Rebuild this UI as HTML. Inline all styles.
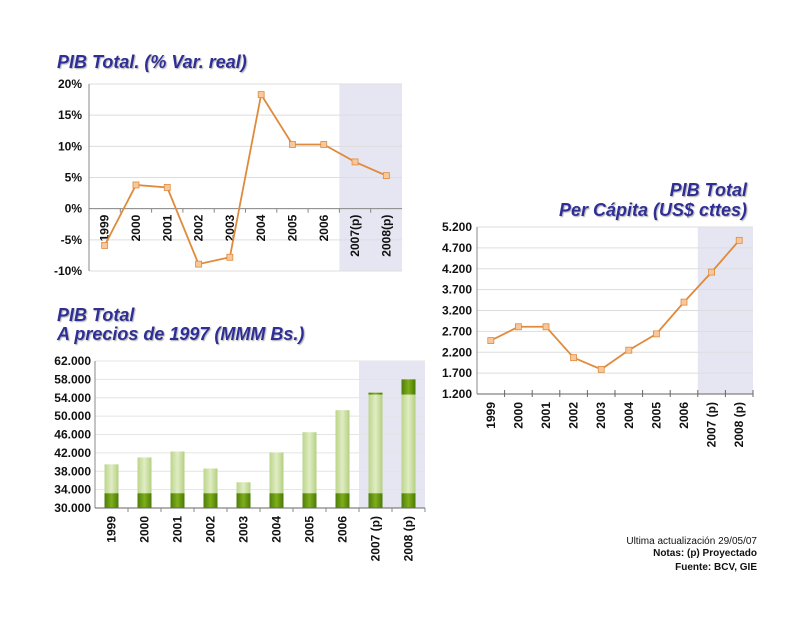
<!DOCTYPE html>
<html><head><meta charset="utf-8"><style>
body{margin:0;background:#fff;}
svg{display:block;font-family:"Liberation Sans",sans-serif;}
.t{font-weight:bold;font-style:italic;fill:#2f2f96;font-size:18px;}
.ax{font-weight:bold;font-size:12px;fill:#111;}
</style></head><body>
<svg id="s" width="800" height="618" viewBox="0 0 800 618">
<defs>
<filter id="sh"><feDropShadow dx="1" dy="1" stdDeviation="0.6" flood-color="#999" flood-opacity="0.8"/></filter>
<linearGradient id="lg" x1="0" x2="1"><stop offset="0" stop-color="#bcd58a"/><stop offset="0.5" stop-color="#e0edc4"/><stop offset="1" stop-color="#b4cf80"/></linearGradient>
<linearGradient id="dg" x1="0" x2="1"><stop offset="0" stop-color="#4d7d08"/><stop offset="0.5" stop-color="#7fae1c"/><stop offset="1" stop-color="#4a7a06"/></linearGradient>
</defs>
<text class="t" x="57" y="68" filter="url(#sh)">PIB Total. (% Var. real)</text>
<text class="t" x="57" y="321" filter="url(#sh)">PIB Total</text>
<text class="t" x="57" y="340" filter="url(#sh)">A precios de 1997 (MMM Bs.)</text>
<text class="t" x="747" y="196" text-anchor="end" filter="url(#sh)">PIB Total</text>
<text class="t" x="747" y="216" text-anchor="end" filter="url(#sh)">Per Cápita (US$ cttes)</text>
<g id="c1"></g>
<g id="c2"></g>
<g id="c3"></g>
<text x="757" y="544" text-anchor="end" font-size="10" fill="#111">Ultima actualización 29/05/07</text>
<text x="757" y="556" text-anchor="end" font-size="10" font-weight="bold" fill="#111">Notas: (p) Proyectado</text>
<text x="757" y="570" text-anchor="end" font-size="10" font-weight="bold" fill="#111">Fuente: BCV, GIE</text>
</svg>
<script>
const NS="http://www.w3.org/2000/svg";
const yearsA=["1999","2000","2001","2002","2003","2004","2005","2006","2007(p)","2008(p)"];
const yearsB=["1999","2000","2001","2002","2003","2004","2005","2006","2007 (p)","2008 (p)"];
const growth=[-5.9,3.8,3.4,-8.9,-7.8,18.3,10.3,10.3,7.5,5.3];
const growthTicks=["20%","15%","10%","5%","0%","-5%","-10%"];
const growthTickVals=[20,15,10,5,0,-5,-10];
const gdp=[39.5,41.0,42.3,38.6,35.6,42.1,46.5,51.3,55.1,58.0];
const gdpBase=[33.2,33.2,33.2,33.2,33.2,33.2,33.2,33.2,33.2,33.2];
const gdpTopBand=[0,0,0,0,0,0,0,0,0.4,3.3];
const gdpTicks=["62.000","58.000","54.000","50.000","46.000","42.000","38.000","34.000","30.000"];
const gdpTickVals=[62,58,54,50,46,42,38,34,30];
const pc=[2480,2810,2810,2070,1790,2250,2640,3400,4120,4880];
const pcTicks=["5.200","4.700","4.200","3.700","3.200","2.700","2.200","1.700","1.200"];
const pcTickVals=[5200,4700,4200,3700,3200,2700,2200,1700,1200];

function mk(p,tag,a,txt){const e=document.createElementNS(NS,tag);for(const k in a)e.setAttribute(k,a[k]);if(txt!==undefined)e.textContent=txt;p.appendChild(e);return e;}
function lin(d0,d1,r0,r1){return v=>r0+(v-d0)/(d1-d0)*(r1-r0);}

// Chart 1
(function(){
const g=document.getElementById('c1');const L=89,R=402,T=84,B=271;
const y=lin(-10,20,B,T);const bw=(R-L)/yearsA.length;const x=i=>L+bw*(i+0.5);
let e=mk(g,'rect',{x:L+bw*8,y:T,width:bw*2,height:B-T,fill:'#e6e6f2'});

growthTickVals.forEach((v,i)=>{mk(g,'line',{x1:L,x2:R,y1:y(v),y2:y(v),stroke:'#ddd'});
 let t=mk(g,'text',{x:L-7,y:y(v)+4,'text-anchor':'end',class:'ax'},growthTicks[i]);
 });
mk(g,'line',{x1:L,x2:L,y1:T,y2:B,stroke:'#888'});
mk(g,'line',{x1:L,x2:R,y1:y(0),y2:y(0),stroke:'#888'});
yearsA.forEach((c,i)=>{mk(g,'line',{x1:L+bw*i,x2:L+bw*i,y1:y(0),y2:y(0)+4,stroke:'#888'});
 let t=mk(g,'text',{transform:`translate(${x(i)+4},${y(0)+6}) rotate(-90)`,'text-anchor':'end',class:'ax',fill:(i==3||i==4)?'#999':'#111'},c);
 });
let p=mk(g,'polyline',{points:growth.map((v,i)=>x(i)+','+y(v)).join(' '),fill:'none',stroke:'#e08a3c','stroke-width':1.8});

growth.forEach((v,i)=>{let m=mk(g,'rect',{x:x(i)-3,y:y(v)-3,width:6,height:6,fill:'#f8c89c',stroke:'#e08a3c','stroke-width':0.8});
 });
})();

// Chart 2
(function(){
const g=document.getElementById('c2');const L=95,R=425,T=361,B=508;
const y=lin(30,62,B,T);const bw=(R-L)/yearsB.length;const x=i=>L+bw*(i+0.5);
let e=mk(g,'rect',{x:L+bw*8,y:T,width:bw*2,height:B-T,fill:'#e6e6f2'});

gdpTickVals.forEach((v,i)=>{mk(g,'line',{x1:L,x2:R,y1:y(v),y2:y(v),stroke:'#e4e4e4'});
 let t=mk(g,'text',{x:L-4,y:y(v)+4,'text-anchor':'end',class:'ax'},gdpTicks[i]);
 });
gdp.forEach((v,i)=>{const w=14;
 let b=mk(g,'rect',{x:x(i)-w/2,y:y(v),width:w,height:y(30)-y(v),fill:'url(#lg)'});
 
 mk(g,'rect',{x:x(i)-w/2,y:y(gdpBase[i]),width:w,height:y(30)-y(gdpBase[i]),fill:'url(#dg)'});
 if(gdpTopBand[i]>0)mk(g,'rect',{x:x(i)-w/2,y:y(v),width:w,height:y(v-gdpTopBand[i])-y(v),fill:'url(#dg)'});
});
mk(g,'line',{x1:L,x2:L,y1:T,y2:B,stroke:'#888'});
mk(g,'line',{x1:L,x2:R,y1:B,y2:B,stroke:'#666'});
yearsB.forEach((c,i)=>{mk(g,'line',{x1:L+bw*(i+1),x2:L+bw*(i+1),y1:B,y2:B+4,stroke:'#888'});
 let t=mk(g,'text',{transform:`translate(${x(i)+4},${B+8}) rotate(-90)`,'text-anchor':'end',class:'ax'},c);
 });
})();

// Chart 3
(function(){
const g=document.getElementById('c3');const L=477,R=753,T=227,B=394;
const y=lin(1200,5200,B,T);const bw=(R-L)/yearsB.length;const x=i=>L+bw*(i+0.5);
let e=mk(g,'rect',{x:L+bw*8,y:T,width:bw*2,height:B-T,fill:'#e6e6f2'});

pcTickVals.forEach((v,i)=>{mk(g,'line',{x1:L,x2:R,y1:y(v),y2:y(v),stroke:'#ddd'});
 let t=mk(g,'text',{x:L-5,y:y(v)+4,'text-anchor':'end',class:'ax'},pcTicks[i]);
 });
mk(g,'line',{x1:L,x2:L,y1:T,y2:B,stroke:'#888'});
mk(g,'line',{x1:L,x2:R,y1:B,y2:B,stroke:'#666'});
yearsB.forEach((c,i)=>{mk(g,'line',{x1:L+bw*(i+1),x2:L+bw*(i+1),y1:B-4,y2:B+3,stroke:'#666'});
 let t=mk(g,'text',{transform:`translate(${x(i)+4},${B+8}) rotate(-90)`,'text-anchor':'end',class:'ax',fill:i>=8?'#333':'#999'},c);
 });
let p=mk(g,'polyline',{points:pc.map((v,i)=>x(i)+','+y(v)).join(' '),fill:'none',stroke:'#e08a3c','stroke-width':1.8});

pc.forEach((v,i)=>{let m=mk(g,'rect',{x:x(i)-3,y:y(v)-3,width:6,height:6,fill:'#f8c89c',stroke:'#e08a3c','stroke-width':0.8});
 });
})();
</script>
</body></html>
